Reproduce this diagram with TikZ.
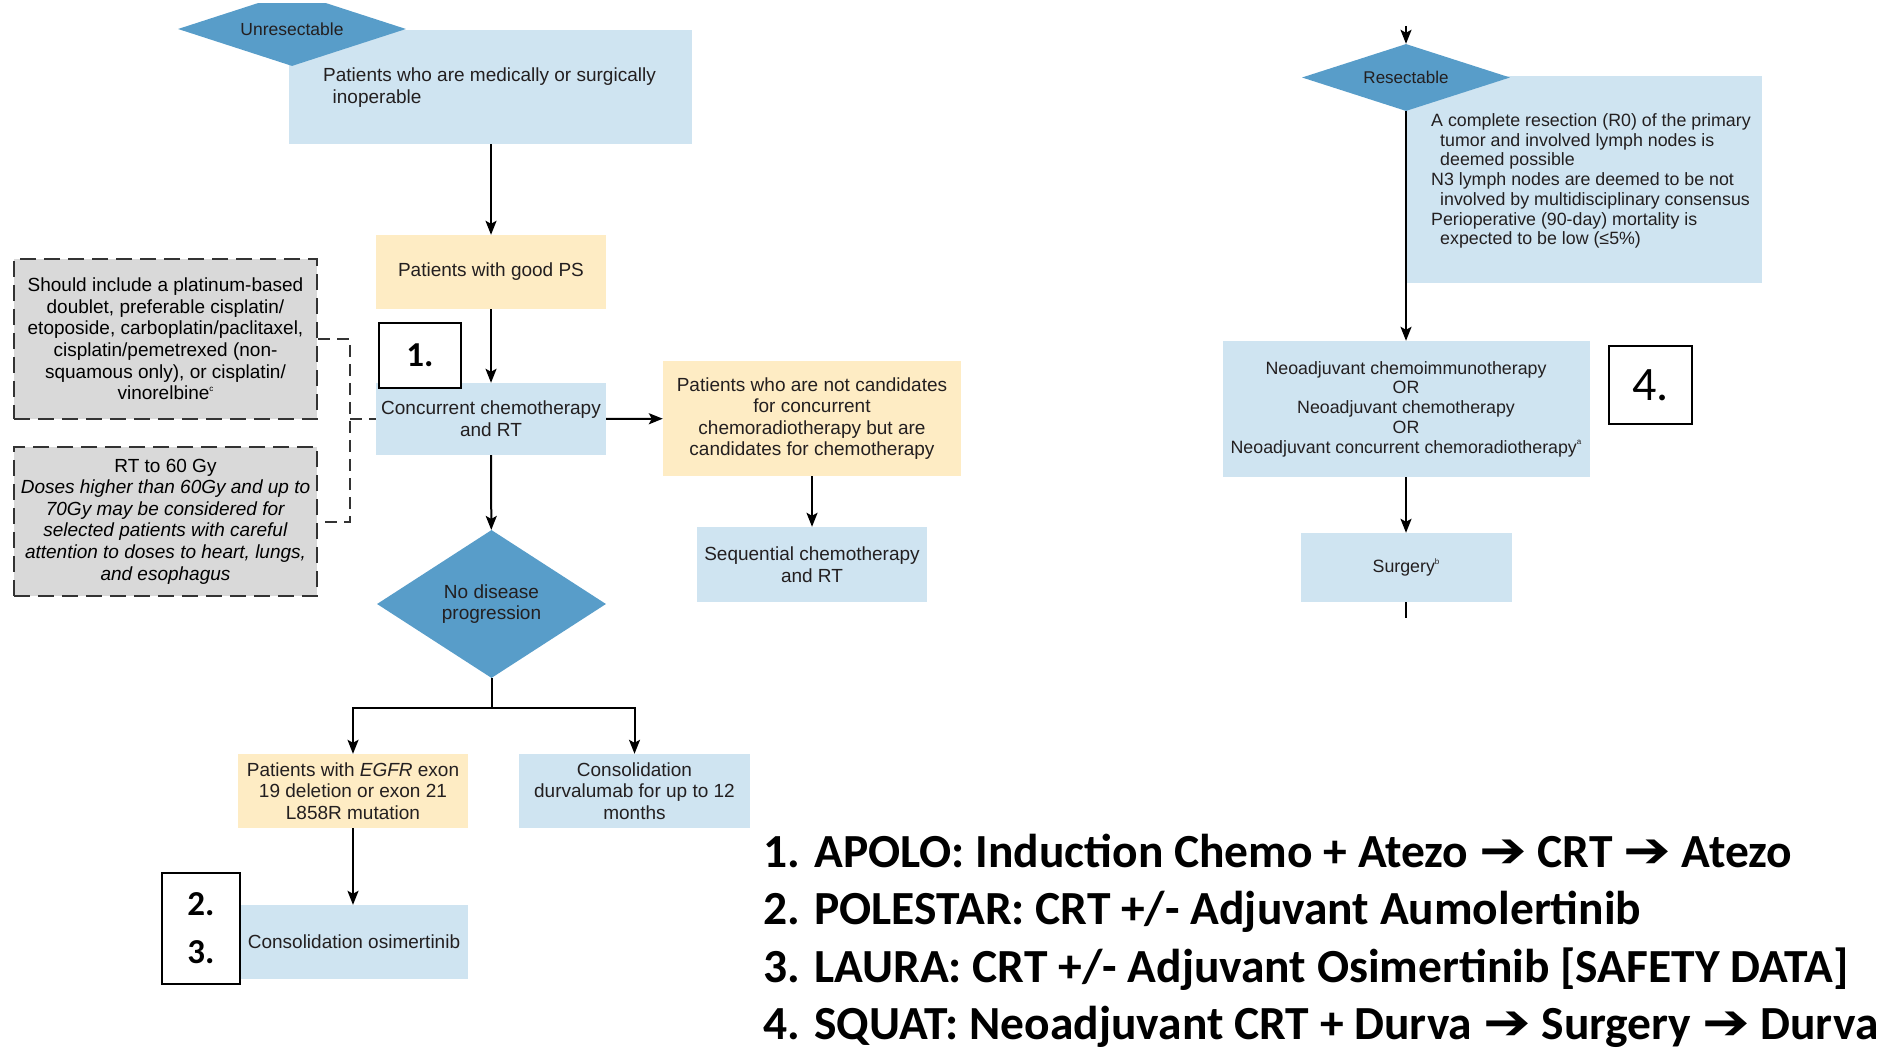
\documentclass[tikz,border=0pt]{standalone}
\usepackage{fontspec}
\setmainfont{Liberation Sans}
\newfontfamily\calibri{Carlito}
\newfontfamily\arrowfont{DejaVu Sans}
\usetikzlibrary{arrows.meta,shapes.geometric,positioning}

\definecolor{decBlue}{RGB}{88,157,201}
\definecolor{stepBlue}{RGB}{207,228,241}
\definecolor{stepYellow}{RGB}{254,236,196}
\definecolor{noteGray}{RGB}{217,217,217}
\definecolor{inkGray}{RGB}{35,31,32}

\newcommand{\trialArr}{\scalebox{1.2}[1.05]{\arrowfont\mdseries ➔}}
\newcommand{\boxtext}{\fontsize{19}{21.6}\selectfont}
\newcommand{\smalltext}{\fontsize{17.8}{19.7}\selectfont}
\newcommand{\fnmark}[1]{\raisebox{0.45em}{\fontsize{8}{8}\selectfont #1}}

\begin{document}
\begin{tikzpicture}[x=1pt,y=-1pt,
    flowArr/.style={-{Stealth[length=14pt,width=11pt,inset=3pt]},line width=2pt},
    flowLine/.style={line width=2pt},
    blueBox/.style={fill=stepBlue,inner sep=0pt,align=center,text=inkGray,font=\boxtext},
    yellowBox/.style={fill=stepYellow,inner sep=0pt,align=center,text=inkGray,font=\boxtext},
    grayNote/.style={fill=noteGray,draw=black!80,dash pattern=on 16pt off 8pt,line width=2pt,inner sep=0pt,align=center,font=\boxtext},
    bracket/.style={draw=black!80,dash pattern=on 12pt off 7pt,line width=2pt},
    decision/.style={diamond,fill=decBlue,inner sep=0pt,align=center,text=inkGray},
    trialTag/.style={draw=black,fill=white,line width=2.2pt,inner sep=0pt},
    trialLine/.style={anchor=base west,inner sep=0pt,font=\calibri\bfseries\fontsize{47.5}{50}\selectfont},
]
\useasboundingbox (0,0) rectangle (1888,1048);

% Unresectable branch
\node[blueBox,anchor=north west,minimum width=403pt,minimum height=114pt] (inop) at (289,30) {};
\node[anchor=north west,inner sep=0pt,align=left,text=inkGray,font=\boxtext] (inopText) at (323,67.5) {Patients who are medically or surgically\\\hspace*{9.5pt}inoperable};
\begin{scope}
\clip (0,4) rectangle (1888,1048);
\node[decision,aspect=3.08,minimum width=228pt,minimum height=74pt,font=\fontsize{17.5}{20}\selectfont] (unres) at (292,29) {Unresectable};
\end{scope}

\node[yellowBox,minimum width=230pt,minimum height=74pt] (goodPS) at (491,272) {Patients with good PS};
\node[blueBox,minimum width=230pt,minimum height=72pt] (concurrent) at (491,419) {Concurrent chemotherapy\\and RT};
\node[yellowBox,minimum width=298pt,minimum height=115pt] (notCand) at (812,418.5) {Patients who are not candidates\\for concurrent\\chemoradiotherapy but are\\candidates for chemotherapy};
\node[blueBox,minimum width=230pt,minimum height=75pt] (sequential) at (812,564.5) {Sequential chemotherapy\\and RT};

% Notes on regimen and dose
\node[grayNote,minimum width=303pt,minimum height=160pt] (regimen) at (165.5,339) {Should include a platinum-based\\doublet, preferable cisplatin/\\etoposide, carboplatin/paclitaxel,\\cisplatin/pemetrexed (non-\\squamous only), or cisplatin/\\vinorelbine\fnmark{c}};
\node[grayNote,minimum width=303pt,minimum height=149pt] (dose) at (165.5,521.5) {RT to 60 Gy\\\textit{Doses higher than 60Gy and up to}\\\textit{70Gy may be considered for}\\\textit{selected patients with careful}\\\textit{attention to doses to heart, lungs,}\\\textit{and esophagus}};

\node[decision,minimum width=229pt,minimum height=148pt,font=\boxtext] (noProg) at (491.5,604) {No disease\\progression};
\node[yellowBox,minimum width=230pt,minimum height=74pt] (egfr) at (353,791) {Patients with \textit{EGFR} exon\\19 deletion or exon 21\\L858R mutation};
\node[blueBox,minimum width=231pt,minimum height=74pt] (durva) at (634.5,791) {Consolidation\\durvalumab for up to 12\\months};
\node[blueBox,minimum width=228pt,minimum height=74pt] (osim) at (354,942) {Consolidation osimertinib};

% Trial tags
\node[trialTag,minimum width=82pt,minimum height=65pt,font=\calibri\bfseries\fontsize{35}{40}\selectfont] (tagOne) at (420,355.5) {1.};
\node[trialTag,minimum width=78pt,minimum height=111pt,align=left,font=\calibri\bfseries\fontsize{35}{48}\selectfont] (tagTwoThree) at (201,928.5) {2.\\3.};

\draw[flowArr] (inop.south -| goodPS.north) -- (goodPS.north);
\draw[flowArr] (goodPS) -- (concurrent);
\draw[flowArr] (concurrent) -- (notCand);
\draw[flowArr] (concurrent) -- (noProg);
\draw[flowArr] (notCand) -- (sequential);
\draw[flowArr] (noProg.south) -- ++(0,30) -| (egfr.north);
\draw[flowArr] (noProg.south) -- ++(0,30) -| (durva.north);
\draw[flowArr] (egfr.south) -- (egfr.south |- osim.north);
\draw[bracket] (regimen.east) -- ++(32,0) coordinate (brk) |- (dose.east);
\draw[bracket] (brk |- concurrent.west) -- (concurrent.west);

% Resectable branch
\node[blueBox,minimum width=356pt,minimum height=207pt] (resInfo) at (1584,179.5) {};
\node[anchor=north west,inner sep=0pt,align=left,text=inkGray,font=\smalltext] (resText) at (1431,113.5) {A complete resection (R0) of the primary\\\hspace*{9pt}tumor and involved lymph nodes is\\\hspace*{9pt}deemed possible\\N3 lymph nodes are deemed to be not\\\hspace*{9pt}involved by multidisciplinary consensus\\Perioperative (90-day) mortality is\\\hspace*{9pt}expected to be low (≤5\%)};
\node[decision,aspect=3.1,minimum width=208pt,minimum height=67pt,font=\fontsize{17}{20}\selectfont] (resDia) at (1406,77.5) {Resectable};
\node[blueBox,minimum width=367pt,minimum height=136pt,font=\smalltext] (neoadj) at (1406,409) {Neoadjuvant chemoimmunotherapy\\OR\\Neoadjuvant chemotherapy\\OR\\Neoadjuvant concurrent chemoradiotherapy\fnmark{a}};
\node[blueBox,minimum width=211pt,minimum height=69pt,font=\smalltext] (surgery) at (1406,567.5) {Surgery\fnmark{b}};
\node[trialTag,minimum width=83pt,minimum height=78pt,font=\calibri\fontsize{48}{52}\selectfont] (tagFour) at (1650.5,385) {4.};
\coordinate (resIn) at (1406,26);
\coordinate (surgOut) at (1406,618);
\draw[flowArr] (resIn) -- (resDia.north);
\draw[flowArr] (resDia.south) -- (neoadj.north);
\draw[flowArr] (neoadj) -- (surgery);
\draw[flowLine] (surgery.south) -- (surgOut);

% Trial list
\node[trialLine] (apolo) at (763,867) {1. APOLO: Induction Chemo + Atezo \trialArr{} CRT \trialArr{} Atezo};
\node[trialLine] (polestar) at (763,924.5) {2. POLESTAR: CRT +/- Adjuvant Aumolertinib};
\node[trialLine] (laura) at (763,982) {3. LAURA: CRT +/- Adjuvant Osimertinib [SAFETY DATA]};
\node[trialLine] (squat) at (763,1039.5) {4. SQUAT: Neoadjuvant CRT + Durva \trialArr{} Surgery \trialArr{} Durva};
\end{tikzpicture}
\end{document}
